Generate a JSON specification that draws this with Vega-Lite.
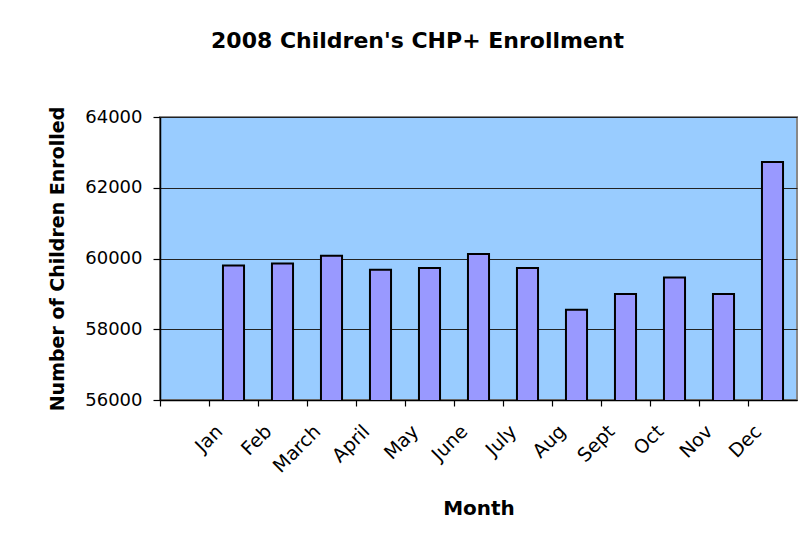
{
  "$schema": "https://vega.github.io/schema/vega-lite/v6.json",
  "autosize": "none",
  "width": 637,
  "height": 283,
  "padding": {"left": 160, "top": 117, "right": 13, "bottom": 146},
  "background": "white",
  "title": {
    "text": "2008 Children's CHP+ Enrollment",
    "font": "DejaVu Sans",
    "fontSize": 22,
    "fontWeight": "bold",
    "color": "black",
    "anchor": "middle",
    "dx": -61,
    "offset": 53
  },
  "data": {
    "values": [
      {"month": "Jan", "enrolled": 59800},
      {"month": "Feb", "enrolled": 59860},
      {"month": "March", "enrolled": 60080},
      {"month": "April", "enrolled": 59680},
      {"month": "May", "enrolled": 59730},
      {"month": "June", "enrolled": 60130},
      {"month": "July", "enrolled": 59730},
      {"month": "Aug", "enrolled": 58550},
      {"month": "Sept", "enrolled": 59000},
      {"month": "Oct", "enrolled": 59460},
      {"month": "Nov", "enrolled": 59000},
      {"month": "Dec", "enrolled": 62730}
    ]
  },
  "mark": {
    "type": "bar",
    "fill": "#9999FF",
    "stroke": "black",
    "strokeWidth": 2,
    "clip": true,
    "width": {"band": 0.43}
  },
  "encoding": {
    "x": {
      "field": "month",
      "type": "nominal",
      "sort": null,
      "scale": {
        "domain": ["", "Jan", "Feb", "March", "April", "May", "June", "July", "Aug", "Sept", "Oct", "Nov", "Dec"],
        "paddingInner": 0,
        "paddingOuter": 0
      },
      "axis": {
        "title": "Month",
        "titleFont": "DejaVu Sans",
        "titleFontSize": 20,
        "titleFontWeight": "bold",
        "titleColor": "black",
        "titlePadding": 22,
        "bandPosition": 0,
        "labelAngle": -45,
        "labelAlign": "right",
        "labelBaseline": "middle",
        "labelOffset": -14,
        "labelPadding": 22,
        "labelFont": "DejaVu Sans",
        "labelFontSize": 19,
        "labelColor": "black",
        "domainColor": "black",
        "domainWidth": 1.5,
        "tickColor": "black",
        "tickSize": 6,
        "tickWidth": 1.2,
        "grid": false
      }
    },
    "y": {
      "field": "enrolled",
      "type": "quantitative",
      "scale": {"domain": [56000, 64000], "zero": false, "nice": false},
      "axis": {
        "title": "Number of Children Enrolled",
        "titleFont": "DejaVu Sans",
        "titleFontSize": 19,
        "titleFontWeight": "bold",
        "titleColor": "black",
        "titlePadding": 17,
        "values": [56000, 58000, 60000, 62000, 64000],
        "format": "d",
        "labelFont": "DejaVu Sans",
        "labelFontSize": 18,
        "labelColor": "black",
        "labelPadding": 11,
        "domainColor": "black",
        "domainWidth": 1.5,
        "tickColor": "black",
        "tickSize": 7,
        "tickWidth": 1.2,
        "grid": true,
        "gridColor": "#222222",
        "gridWidth": 1
      }
    }
  },
  "config": {
    "view": {"fill": "#99CCFF", "stroke": "#888888", "strokeWidth": 2}
  }
}
